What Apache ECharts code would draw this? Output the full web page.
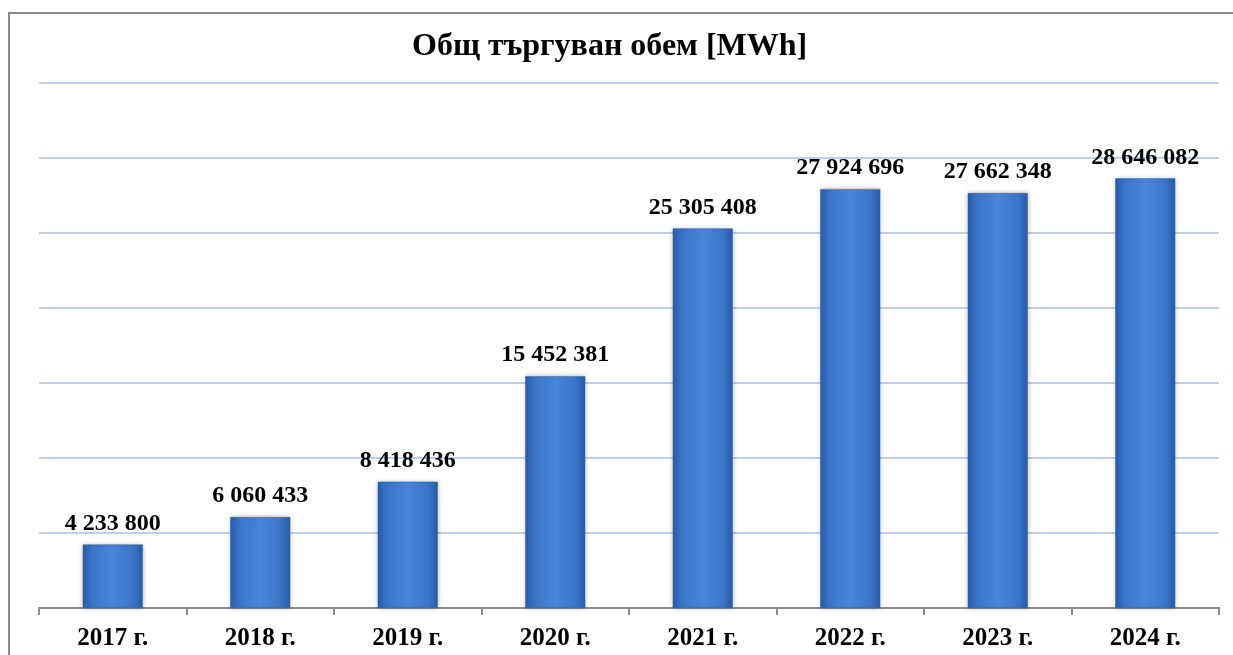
<!DOCTYPE html>
<html>
<head>
<meta charset="utf-8">
<script src="https://cdn.jsdelivr.net/npm/echarts@6/dist/echarts.min.js"></script>
<style>html,body{margin:0;padding:0;background:#fff;}#c{width:1233px;height:655px;}</style>
</head>
<body>
<div id="c"></div>
<script>
const categories = ['2017 г.', '2018 г.', '2019 г.', '2020 г.', '2021 г.', '2022 г.', '2023 г.', '2024 г.'];
const volumes = [4233800, 6060433, 8418436, 15452381, 25305408, 27924696, 27662348, 28646082];
const titleText = 'Общ търгуван обем [MWh]';

function fmt(v) {
  return String(v).replace(/\B(?=(\d{3})+(?!\d))/g, ' ');
}

const chart = echarts.init(document.getElementById('c'));
const serif = '"Liberation Serif", "Times New Roman", serif';
chart.setOption({
  animation: false,
  backgroundColor: '#fff',
  title: {
    text: titleText,
    left: 407,
    top: 26,
    textStyle: { fontFamily: serif, fontWeight: 'bold', fontSize: 32, color: '#000' }
  },
  graphic: [{
    type: 'rect',
    shape: { x: 9, y: 13, width: 1240, height: 700 },
    style: { fill: 'none', stroke: '#8a8a8a', lineWidth: 2 },
    silent: true
  }],
  grid: { left: 39, right: 14, top: 83, bottom: 47, containLabel: false },
  xAxis: {
    type: 'category',
    data: categories,
    axisLine: { lineStyle: { color: '#8c8c8c', width: 2 } },
    axisTick: { show: true, alignWithLabel: false, length: 7, lineStyle: { color: '#8c8c8c', width: 2 } },
    axisLabel: { fontFamily: serif, fontWeight: 'bold', fontSize: 25, color: '#000', margin: 18 }
  },
  yAxis: {
    type: 'value',
    min: 0,
    max: 35000000,
    interval: 5000000,
    axisLabel: { show: false },
    axisLine: { show: false },
    axisTick: { show: false },
    splitLine: { lineStyle: { color: '#aabfe8', width: 1.5 } }
  },
  series: [{
    type: 'bar',
    data: volumes,
    barWidth: 60,
    itemStyle: {
      color: new echarts.graphic.LinearGradient(0, 0, 1, 0, [
        { offset: 0, color: '#2a5ca6' },
        { offset: 0.15, color: '#3a74c8' },
        { offset: 0.5, color: '#4a87d8' },
        { offset: 0.85, color: '#3a74c8' },
        { offset: 1, color: '#2a5ca6' }
      ]),
      borderColor: '#2f62ad',
      borderWidth: 0.5,
      shadowColor: 'rgba(0,0,0,0.25)',
      shadowBlur: 5,
      shadowOffsetX: 0,
      shadowOffsetY: 0
    },
    label: {
      show: true,
      position: 'top',
      distance: 9,
      formatter: p => fmt(p.value),
      fontFamily: serif,
      fontWeight: 'bold',
      fontSize: 24,
      color: '#000'
    }
  }]
});
</script>
</body>
</html>
